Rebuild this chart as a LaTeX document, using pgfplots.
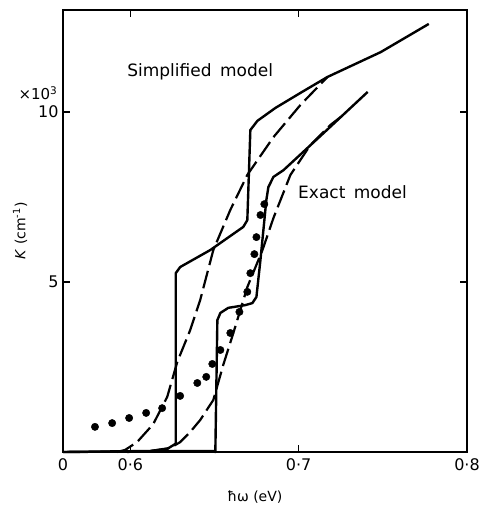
\documentclass[border=0pt]{standalone}
\usepackage{fontspec}
\setmainfont{DejaVu Sans}
\usepackage{pgfplots}
\pgfplotsset{compat=1.18}
\begin{document}
\begin{tikzpicture}
\begin{axis}[
  scale only axis, width=404pt, height=442pt,
  xmin=0.56, xmax=0.80, ymin=0, ymax=13,
  axis line style={line width=1.5pt},
  tick style={line width=1.4pt, black},
  tick align=inside, major tick length=7pt,
  xtick pos=both, ytick pos=both,
  xticklabel pos=lower, yticklabel pos=left,
  xtick={0.56,0.6,0.7,0.8}, xticklabels={0,0·6,0·7,0·8},
  ytick={5,10}, yticklabels={5,10},
  ticklabel style={font=\fontsize{16}{18}\selectfont},
  xticklabel style={yshift=-3pt},
  yticklabel style={xshift=-1pt},
  xlabel={ħω (eV)},
  xlabel style={font=\fontsize{14}{16}\selectfont, at={(axis description cs:0.475,-0.102)}, anchor=center},
  ylabel={\textit{K} (cm\textsuperscript{-1})},
  ylabel style={font=\fontsize{14}{16}\selectfont, at={(axis description cs:-0.106,0.5)}, anchor=center, rotate=0},
  clip=false,
]
% Simplified model (solid)
\addplot[black, line width=2.4pt, line join=round] coordinates {
(0.56,0) (0.6118,0.03) (0.6219,0.09) (0.6255,0.2) (0.627,0.25) (0.627,5.26)
(0.6296,5.44) (0.6475,5.94) (0.6671,6.62) (0.6695,6.82) (0.6713,9.47)
(0.6755,9.74) (0.6862,10.12) (0.701,10.56) (0.7171,11.03) (0.7487,11.76) (0.7773,12.59)};
% Exact model (solid)
\addplot[black, line width=2.4pt, line join=round] coordinates {
(0.56,0) (0.6356,0.03) (0.6493,0.03) (0.6505,0) (0.6517,3.88) (0.6535,4.09)
(0.6582,4.24) (0.6683,4.32) (0.6725,4.38) (0.6749,4.56) (0.6773,5.65)
(0.6808,7.41) (0.682,7.79) (0.685,8.09) (0.691,8.29) (0.7148,9.38) (0.741,10.59)};
% Simplified model (dashed)
\addplot[black, line width=2.2pt, dash pattern=on 18pt off 6pt] coordinates {
(0.5921,0) (0.5969,0.06) (0.604,0.29) (0.6136,0.82) (0.6219,1.62) (0.6279,2.65)
(0.6356,3.59) (0.6415,4.47) (0.6493,5.94) (0.6594,7.12) (0.6695,8.15)
(0.685,9.26) (0.7011,10.21) (0.7171,11.03)};
% Exact model (dashed)
\addplot[black, line width=2.2pt, dash pattern=on 18pt off 6pt] coordinates {
(0.5981,0) (0.6118,0.03) (0.6237,0.12) (0.6296,0.29) (0.6356,0.59) (0.6415,0.94)
(0.6493,1.53) (0.6552,2.56) (0.6612,3.5) (0.6695,4.85) (0.6785,5.94)
(0.685,6.88) (0.6951,8.15) (0.707,9.03) (0.7189,9.62) (0.7249,9.85)};
% Experimental points
\addplot[only marks, mark=*, mark size=3.7pt, black] coordinates {
(0.579,0.74) (0.5892,0.85) (0.5993,1.0) (0.6094,1.15) (0.6189,1.29)
(0.6296,1.65) (0.6398,2.03) (0.6451,2.21) (0.6487,2.59) (0.6535,3.0)
(0.6594,3.5) (0.6648,4.12) (0.6695,4.71) (0.6713,5.26) (0.6737,5.82)
(0.6749,6.32) (0.6773,6.97) (0.6796,7.29)};
\node[font=\fontsize{17}{19}\selectfont] at (axis cs:0.6415,11.18) {Simplified\enspace model};
\node[font=\fontsize{17}{19}\selectfont] at (axis cs:0.732,7.65) {Exact\enspace model};
\node[font=\fontsize{15}{17}\selectfont] at (axis description cs:-0.062,0.812) {×10\textsuperscript{3}};
\end{axis}
\pgfresetboundingbox
\useasboundingbox ([shift={(-63pt,-57pt)}]current axis.south west) rectangle ([shift={(12pt,10pt)}]current axis.north east);
\end{tikzpicture}
\end{document}
